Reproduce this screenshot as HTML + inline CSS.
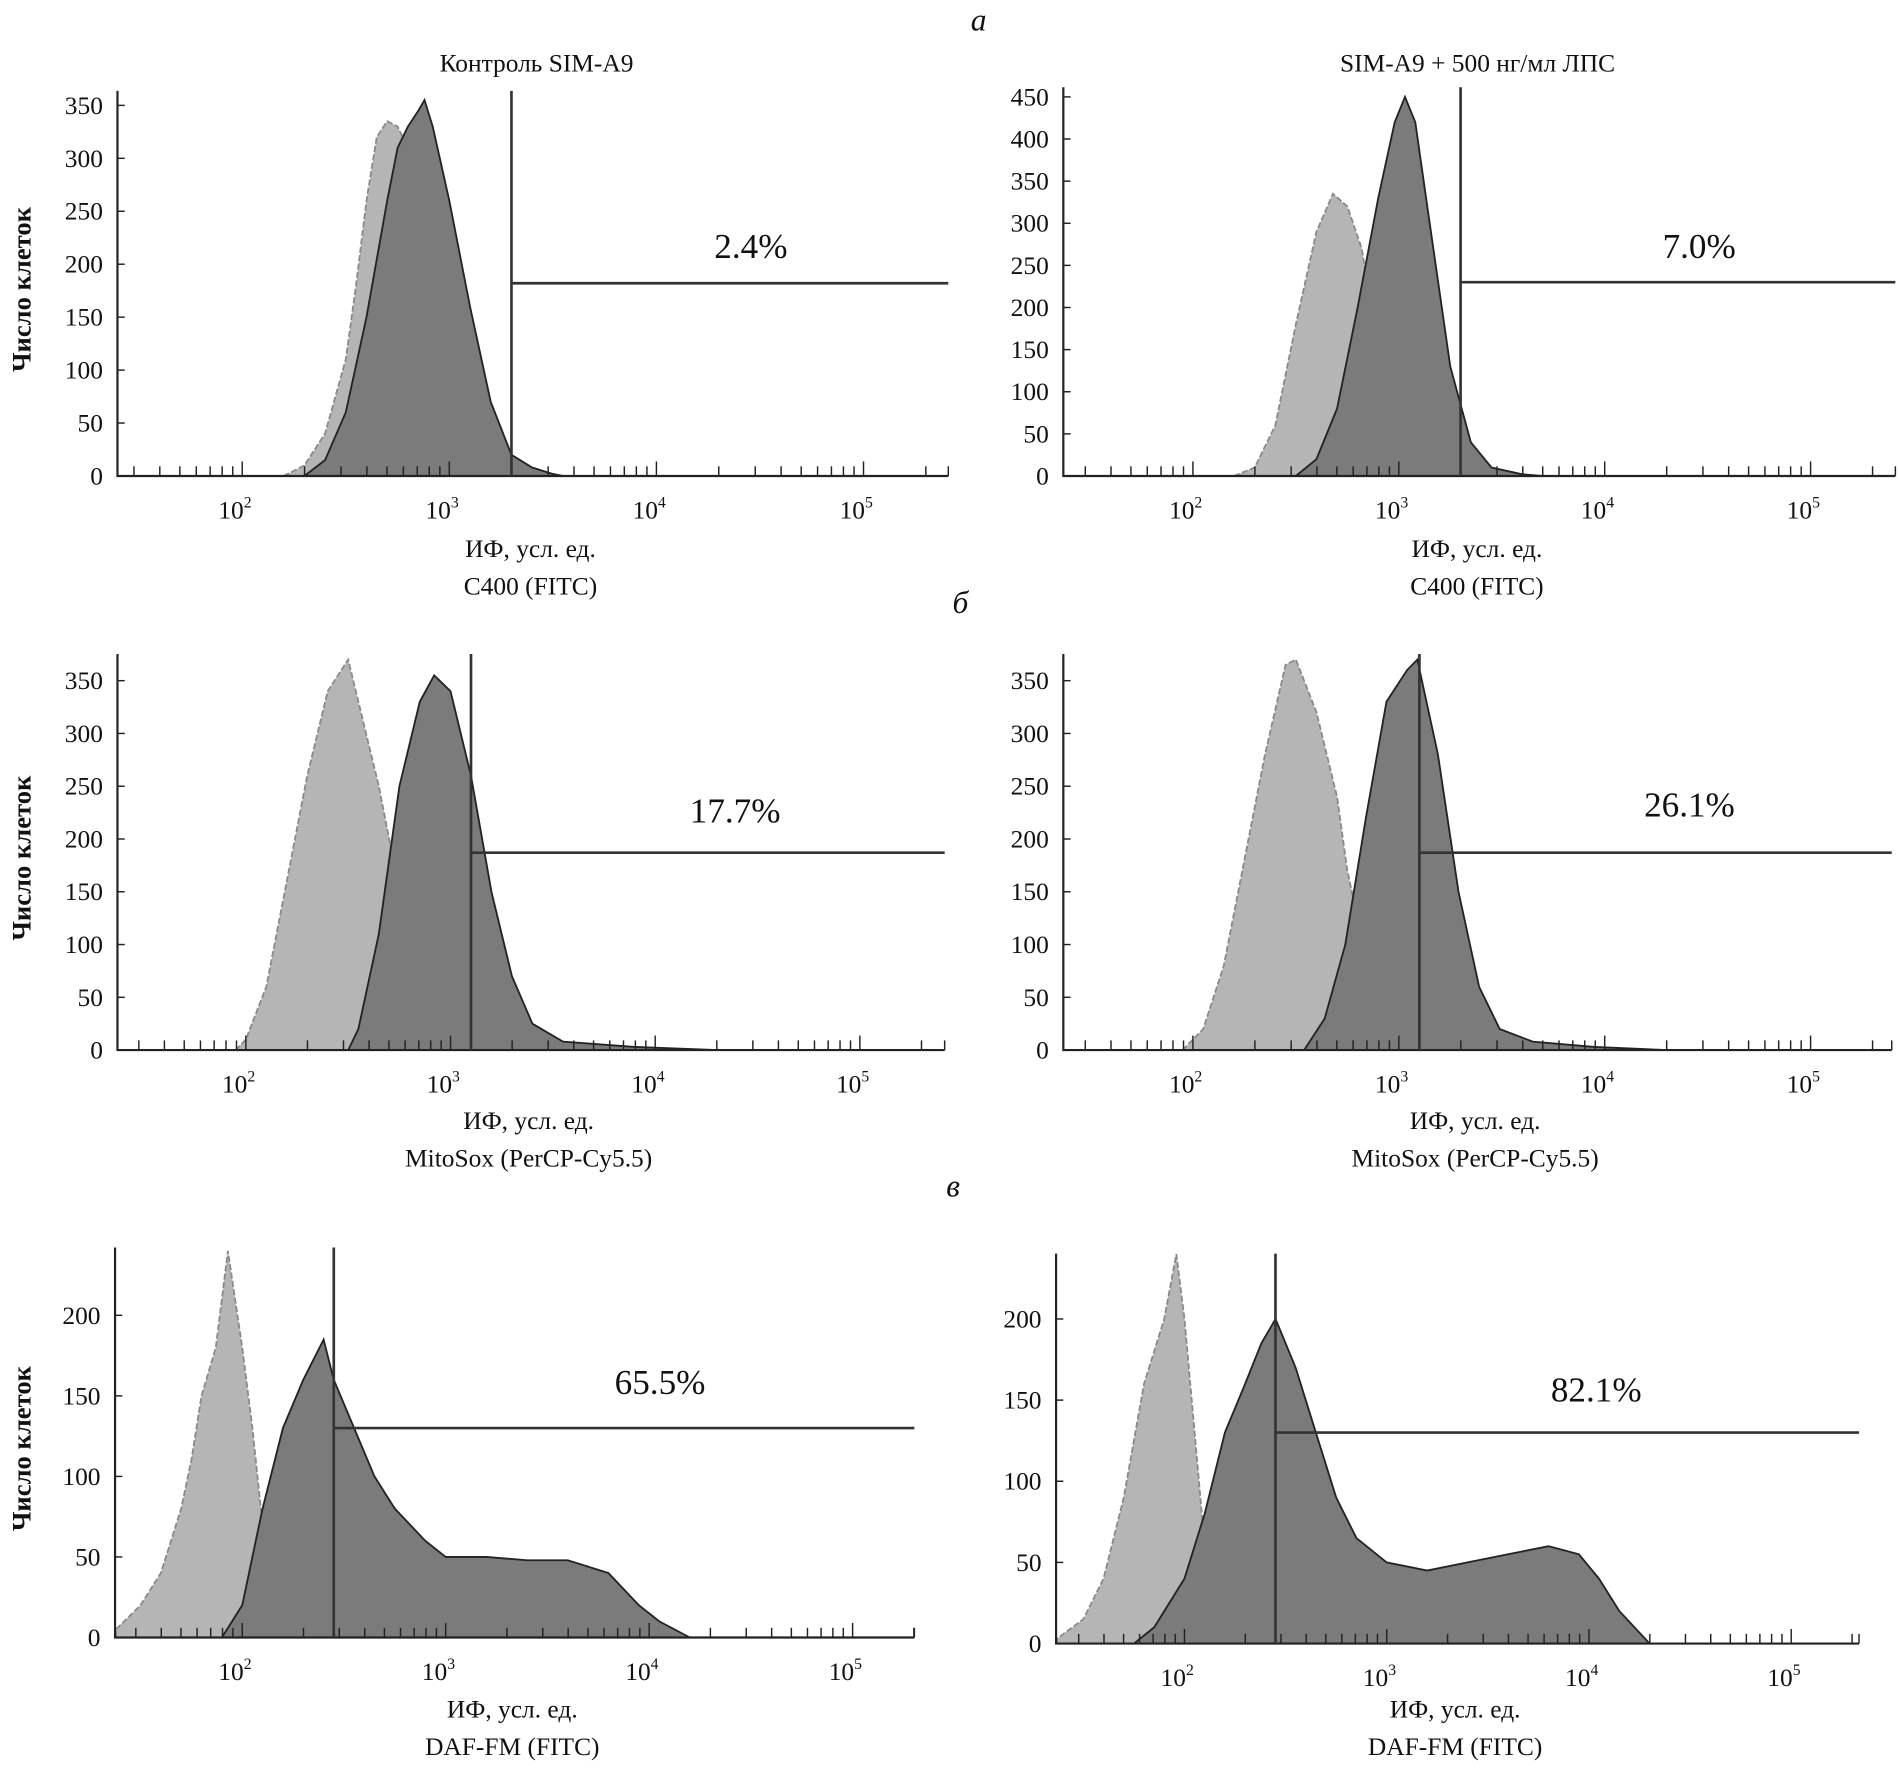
<!DOCTYPE html>
<html><head><meta charset="utf-8">
<style>
html,body{margin:0;padding:0;background:#fff;}
svg{display:block;}
text{font-family:"Liberation Serif",serif;fill:#111;}
</style></head>
<body>
<svg id="fig" width="1899" height="1778" viewBox="0 0 1568 1468" preserveAspectRatio="none" xmlns="http://www.w3.org/2000/svg">
<text x="808" y="25" font-size="26" font-style="italic" text-anchor="middle">а</text>
<text x="793" y="506" font-size="26" font-style="italic" text-anchor="middle">б</text>
<text x="787" y="988" font-size="26" font-style="italic" text-anchor="middle">в</text>
<text x="443" y="59" font-size="21" text-anchor="middle">Контроль SIM-A9</text>
<text x="1220" y="59" font-size="21" text-anchor="middle">SIM-A9 + 500 нг/мл ЛПС</text>
</svg>
<script>
// Histogram data: [log10 intensity, cell count]
const aLeftLight=[[2.2,0],[2.3,10],[2.4,40],[2.5,110],[2.55,180],[2.6,260],[2.65,320],[2.7,335],[2.75,330],[2.8,310],[2.85,260],[2.9,200],[3.0,100],[3.1,40],[3.2,10],[3.3,0]];
const aLeftDark=[[2.3,0],[2.4,15],[2.5,60],[2.6,150],[2.7,260],[2.75,310],[2.8,330],[2.85,345],[2.88,355],[2.92,330],[3.0,260],[3.1,160],[3.2,70],[3.3,20],[3.4,8],[3.5,2],[3.55,0]];
const aRightLight=[[2.2,0],[2.3,10],[2.4,60],[2.5,180],[2.6,290],[2.68,335],[2.75,320],[2.82,270],[2.9,150],[3.0,50],[3.1,10],[3.2,0]];
const aRightDark=[[2.5,0],[2.6,20],[2.7,80],[2.8,200],[2.9,330],[2.98,420],[3.03,450],[3.08,420],[3.15,300],[3.25,130],[3.35,40],[3.45,10],[3.6,2],[3.7,0]];
const bLeftLight=[[1.95,0],[2.0,10],[2.1,60],[2.2,160],[2.3,260],[2.4,340],[2.5,370],[2.55,330],[2.65,250],[2.75,150],[2.85,60],[2.95,15],[3.05,0]];
const bLeftDark=[[2.5,0],[2.55,20],[2.65,110],[2.75,250],[2.85,330],[2.92,355],[3.0,340],[3.1,260],[3.2,150],[3.3,70],[3.4,25],[3.55,8],[3.9,3],[4.3,0]];
const bRightLight=[[1.95,0],[2.05,20],[2.15,80],[2.25,180],[2.35,280],[2.45,365],[2.5,370],[2.6,320],[2.7,240],[2.75,170],[2.85,80],[2.95,20],[3.05,0]];
const bRightDark=[[2.54,0],[2.64,30],[2.74,100],[2.84,220],[2.94,330],[3.04,360],[3.09,370],[3.19,280],[3.29,150],[3.39,60],[3.49,20],[3.65,8],[3.95,3],[4.3,0]];
const cLeftLight=[[1.38,5],[1.5,20],[1.6,40],[1.7,80],[1.75,110],[1.8,150],[1.87,180],[1.93,240],[2.0,180],[2.05,130],[2.1,70],[2.15,30],[2.2,5],[2.25,0]];
const cLeftDark=[[1.9,0],[2.0,20],[2.1,80],[2.2,130],[2.3,160],[2.4,185],[2.45,160],[2.55,130],[2.65,100],[2.75,80],[2.9,60],[3.0,50],[3.2,50],[3.4,48],[3.6,48],[3.8,40],[3.95,20],[4.05,10],[4.2,0]];
const cRightLight=[[1.37,3],[1.5,15],[1.6,40],[1.7,90],[1.8,160],[1.9,200],[1.96,240],[2.0,200],[2.05,130],[2.1,60],[2.15,20],[2.2,3],[2.25,0]];
const cRightDark=[[1.75,0],[1.85,10],[2.0,40],[2.1,80],[2.2,130],[2.3,160],[2.38,185],[2.45,200],[2.55,170],[2.65,130],[2.75,90],[2.85,65],[3.0,50],[3.2,45],[3.4,50],[3.6,55],[3.8,60],[3.95,55],[4.05,40],[4.15,20],[4.3,0]];
const yTicksA=[0,50,100,150,200,250,300,350];
const yTicksA2=[0,50,100,150,200,250,300,350,400,450];
const yTicksC=[0,50,100,150,200];
const decades=[2,3,4,5];
const gatePercents=["2.4%","7.0%","17.7%","26.1%","65.5%","82.1%"];
const gateLog=[3.3,3.3,3.1,3.1,2.45,2.45];
const gateCount=[182,230,187,187,130,130];

const panels=[
 {id:'a-left',x0:97,x1:783,top:75,base:393,d2:200,dec:171,ymax:350,ypx:306,yt:yTicksA,light:aLeftLight,dark:aLeftDark,lab:[620,213],gx:422,t2:'C400 (FITC)',ly:460},
 {id:'a-right',x0:878,x1:1565,top:72,base:393,d2:985,dec:170,ymax:450,ypx:313,yt:yTicksA2,light:aRightLight,dark:aRightDark,lab:[1403,213],gx:1205,t2:'C400 (FITC)',ly:460},
 {id:'b-left',x0:97,x1:780,top:540,base:867,d2:203,dec:169,ymax:350,ypx:305,yt:yTicksA,light:bLeftLight,dark:bLeftDark,lab:[607,679],gx:386,t2:'MitoSox (PerCP-Cy5.5)',ly:932},
 {id:'b-right',x0:878,x1:1562,top:540,base:867,d2:985,dec:170,ymax:350,ypx:305,yt:yTicksA,light:bRightLight,dark:bRightDark,lab:[1395,674],gx:1170,t2:'MitoSox (PerCP-Cy5.5)',ly:932},
 {id:'c-left',x0:95,x1:755,top:1030,base:1352,d2:200,dec:168,ymax:200,ypx:266,yt:yTicksC,light:cLeftLight,dark:cLeftDark,lab:[545,1151],gx:273,t2:'DAF-FM (FITC)',ly:1418},
 {id:'c-right',x0:872,x1:1535,top:1035,base:1357,d2:978,dec:167,ymax:200,ypx:268,yt:yTicksC,light:cRightLight,dark:cRightDark,lab:[1318,1157],gx:1057,t2:'DAF-FM (FITC)',ly:1418}
];
const NS='http://www.w3.org/2000/svg';
const svg=document.getElementById('fig');
function mk(tag,attrs,parent){const e=document.createElementNS(NS,tag);for(const k in attrs)e.setAttribute(k,attrs[k]);(parent||svg).appendChild(e);return e;}
panels.forEach((p,i)=>{
 const g=mk('g',{});
 
 
 const X=l=>p.d2+(l-2)*p.dec;
 const Y=c=>p.base-c/p.ymax*p.ypx;
 const lmin=2-(p.d2-p.x0)/p.dec;
 function poly(data,fill,stroke,dash,name){
  let pts=data.map(d=>[Math.max(X(d[0]),p.x0),Y(d[1])]);
  let s='M'+pts[0][0]+','+p.base+' '+pts.map(q=>'L'+q[0].toFixed(1)+','+q[1].toFixed(1)).join(' ')+' L'+pts[pts.length-1][0]+','+p.base+' Z';
  const e=mk('path',{d:s,fill:fill,stroke:stroke,'stroke-width':1.5,'stroke-dasharray':dash},g);
  
  
 }
 poly(p.light,'#b5b5b5','#8a8a8a','5,2','control-histogram');
 poly(p.dark,'#7b7b7b','#222','none','stained-histogram');
 const ax=mk('path',{d:`M${p.x0},${p.top} L${p.x0},${p.base} L${p.x1},${p.base}`,fill:'none',stroke:'#222','stroke-width':1.8},g);
 
 
 for(let d=1;d<=5;d++){for(let m=1;m<=9;m++){const l=d+Math.log10(m);if(l<lmin)continue;const x=X(l);if(x>p.x1)continue;
  mk('line',{x1:x,x2:x,y1:p.base,y2:p.base-(m==1?12:8),stroke:'#222','stroke-width':1.2},g);}}
 mk('line',{x1:p.x1,x2:p.x1,y1:p.base,y2:p.base-8,stroke:'#222','stroke-width':1.2},g);
 decades.forEach(d=>{const t=mk('text',{x:X(d)-6,y:p.base+35,'font-size':21,'text-anchor':'middle'},g);
  
  
  t.textContent='10';const s=mk('tspan',{'font-size':13,dy:-9},t);s.textContent=d;});
 p.yt.forEach(v=>{const y=Y(v);mk('line',{x1:p.x0,x2:p.x0+6,y1:y,y2:y,stroke:'#222','stroke-width':1.2},g);
  const t=mk('text',{x:p.x0-12,y:y+7,'font-size':21,'text-anchor':'end'},g);
  
  
  t.textContent=v;});
 const gx=X(gateLog[i]),gy=Y(gateCount[i]);
 const gl=mk('path',{d:`M${gx},${p.top} L${gx},${p.base} M${gx},${gy} L${p.x1},${gy}`,fill:'none',stroke:'#333','stroke-width':2.2},g);
 
 
 const pt=mk('text',{x:p.lab[0],y:p.lab[1],'font-size':29,'text-anchor':'middle'},g);
 
 
 pt.textContent=gatePercents[i];
 const cx=(p.x0+p.x1)/2;
 const t1=mk('text',{x:cx-2,y:p.ly,'font-size':21,'text-anchor':'middle'},g);
 
 
 t1.textContent='ИФ, усл. ед.';
 const t2=mk('text',{x:cx-2,y:p.ly+31,'font-size':21,'text-anchor':'middle'},g);
 
 
 t2.textContent=p.t2;
 if(p.x0<200){const yc=(p.top+p.base)/2+5;
  const yt=mk('text',{x:0,y:0,'font-size':22,'font-weight':'bold','text-anchor':'middle',transform:`translate(25,${yc}) rotate(-90)`},g);
  
  
  yt.textContent='Число клеток';}
});
</script>
</body></html>
